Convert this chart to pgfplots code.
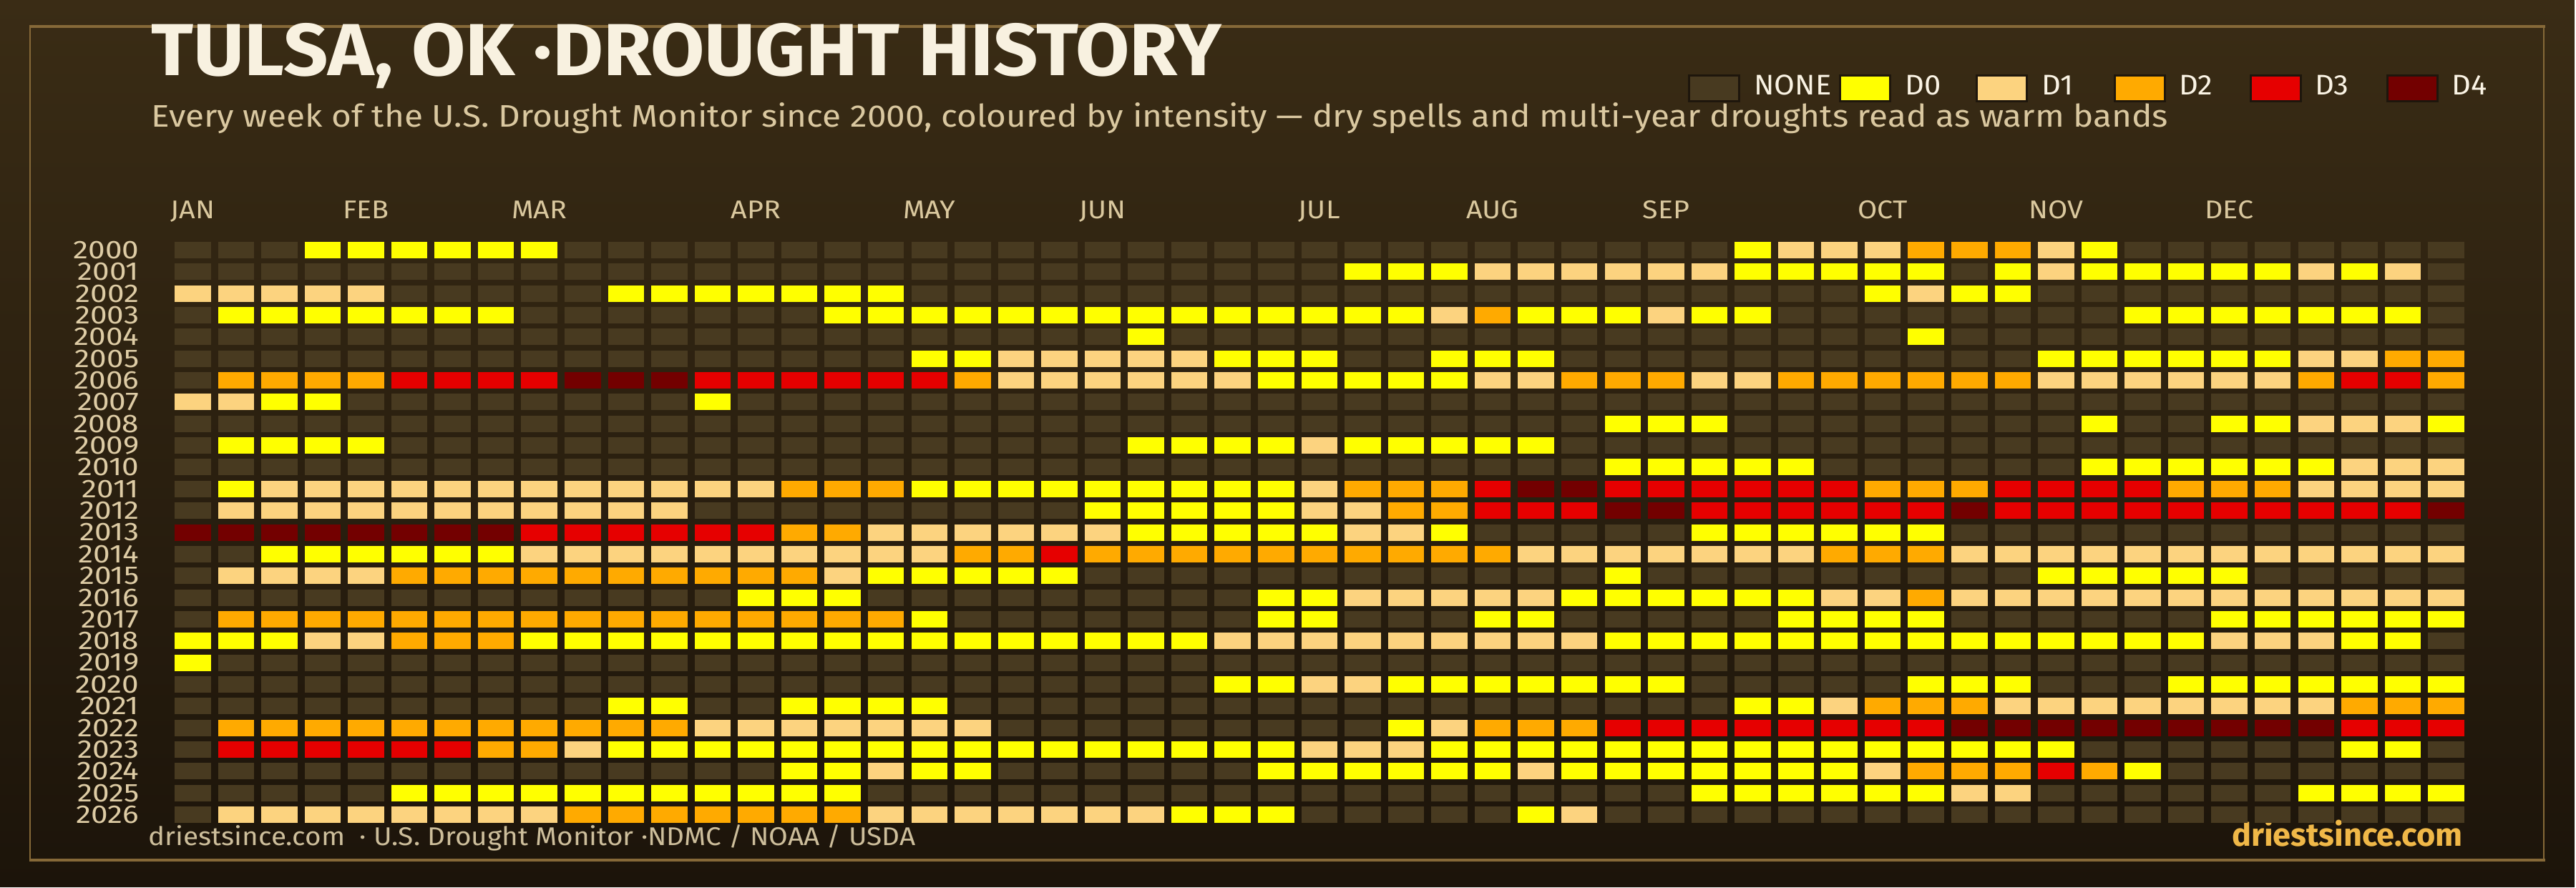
\documentclass[border=0pt]{standalone}
\usepackage{pgfplots}
\pgfplotsset{compat=1.18}
\usepackage{pgfplotstable}
\usepackage{fontspec}
\setmainfont{Fira Sans}

\definecolor{bgtop}{RGB}{58,44,21}
\definecolor{bgbot}{RGB}{28,20,10}
\definecolor{cNone}{RGB}{72,58,32}
\definecolor{cD0}{RGB}{255,255,0}
\definecolor{cD1}{RGB}{252,211,127}
\definecolor{cD2}{RGB}{255,170,0}
\definecolor{cD3}{RGB}{230,0,0}
\definecolor{cD4}{RGB}{115,0,0}
\definecolor{framec}{RGB}{134,105,56}
\definecolor{titlec}{RGB}{248,241,224}
\definecolor{subc}{RGB}{218,200,160}
\definecolor{monthc}{RGB}{218,200,158}
\definecolor{yearc}{RGB}{222,204,165}
\definecolor{footc}{RGB}{205,190,155}
\definecolor{goldc}{RGB}{240,184,72}
\definecolor{legc}{RGB}{250,243,228}
\definecolor{swborder}{RGB}{30,22,12}

% weekly US Drought Monitor category, one row per year 2000..2026, 53 weeks
% 0 = none, 1 = D0, 2 = D1, 3 = D2, 4 = D3, 5 = D4
\pgfplotstableread[header=false]{
0 0 0 1 1 1 1 1 1 0  0 0 0 0 0 0 0 0 0 0  0 0 0 0 0 0 0 0 0 0  0 0 0 0 0 0 1 2 2 2  3 3 3 2 1 0 0 0 0 0  0 0 0
0 0 0 0 0 0 0 0 0 0  0 0 0 0 0 0 0 0 0 0  0 0 0 0 0 0 0 1 1 1  2 2 2 2 2 2 1 1 1 1  1 0 1 2 1 1 1 1 1 2  1 2 0
2 2 2 2 2 0 0 0 0 0  1 1 1 1 1 1 1 0 0 0  0 0 0 0 0 0 0 0 0 0  0 0 0 0 0 0 0 0 0 1  2 1 1 0 0 0 0 0 0 0  0 0 0
0 1 1 1 1 1 1 1 0 0  0 0 0 0 0 1 1 1 1 1  1 1 1 1 1 1 1 1 1 2  3 1 1 1 2 1 1 0 0 0  0 0 0 0 0 1 1 1 1 1  1 1 0
0 0 0 0 0 0 0 0 0 0  0 0 0 0 0 0 0 0 0 0  0 0 1 0 0 0 0 0 0 0  0 0 0 0 0 0 0 0 0 0  1 0 0 0 0 0 0 0 0 0  0 0 0
0 0 0 0 0 0 0 0 0 0  0 0 0 0 0 0 0 1 1 2  2 2 2 2 1 1 1 0 0 1  1 1 0 0 0 0 0 0 0 0  0 0 0 1 1 1 1 1 1 2  2 3 3
0 3 3 3 3 4 4 4 4 5  5 5 4 4 4 4 4 4 3 2  2 2 2 2 2 1 1 1 1 1  2 2 3 3 3 2 2 3 3 3  3 3 3 2 2 2 2 2 2 3  4 4 3
2 2 1 1 0 0 0 0 0 0  0 0 1 0 0 0 0 0 0 0  0 0 0 0 0 0 0 0 0 0  0 0 0 0 0 0 0 0 0 0  0 0 0 0 0 0 0 0 0 0  0 0 0
0 0 0 0 0 0 0 0 0 0  0 0 0 0 0 0 0 0 0 0  0 0 0 0 0 0 0 0 0 0  0 0 0 1 1 1 0 0 0 0  0 0 0 0 1 0 0 1 1 2  2 2 1
0 1 1 1 1 0 0 0 0 0  0 0 0 0 0 0 0 0 0 0  0 0 1 1 1 1 2 1 1 1  1 1 0 0 0 0 0 0 0 0  0 0 0 0 0 0 0 0 0 0  0 0 0
0 0 0 0 0 0 0 0 0 0  0 0 0 0 0 0 0 0 0 0  0 0 0 0 0 0 0 0 0 0  0 0 0 1 1 1 1 1 0 0  0 0 0 0 1 1 1 1 1 1  2 2 2
0 1 2 2 2 2 2 2 2 2  2 2 2 2 3 3 3 1 1 1  1 1 1 1 1 1 2 3 3 3  4 5 5 4 4 4 4 4 4 3  3 3 4 4 4 4 3 3 3 2  2 2 2
0 2 2 2 2 2 2 2 2 2  2 2 0 0 0 0 0 0 0 0  0 1 1 1 1 1 2 2 3 3  4 4 4 5 5 4 4 4 4 4  4 5 4 4 4 4 4 4 4 4  4 4 5
5 5 5 5 5 5 5 5 4 4  4 4 4 4 3 3 2 2 2 2  2 2 1 1 1 1 1 2 2 1  0 0 0 0 0 1 1 1 1 1  1 0 0 0 0 0 0 0 0 0  0 0 0
0 0 1 1 1 1 1 1 2 2  2 2 2 2 2 2 2 2 3 3  4 3 3 3 3 3 3 3 3 3  3 2 2 2 2 2 2 2 3 3  3 2 2 2 2 2 2 2 2 2  2 2 2
0 2 2 2 2 3 3 3 3 3  3 3 3 3 3 2 1 1 1 1  1 0 0 0 0 0 0 0 0 0  0 0 0 1 0 0 0 0 0 0  0 0 0 1 1 1 1 1 0 0  0 0 0
0 0 0 0 0 0 0 0 0 0  0 0 0 1 1 1 0 0 0 0  0 0 0 0 0 1 1 2 2 2  2 2 1 1 1 1 1 1 2 2  3 2 2 2 2 2 2 2 2 2  2 2 2
0 3 3 3 3 3 3 3 3 3  3 3 3 3 3 3 3 1 0 0  0 0 0 0 0 1 1 0 0 0  1 1 0 0 0 0 0 1 1 1  1 0 0 0 0 0 0 1 1 1  1 1 1
1 1 1 2 2 3 3 3 1 1  1 1 1 1 1 1 1 1 1 1  1 1 1 1 2 2 2 2 2 2  2 2 2 1 1 1 1 1 1 1  1 1 1 1 1 1 1 2 2 2  1 1 0
1 0 0 0 0 0 0 0 0 0  0 0 0 0 0 0 0 0 0 0  0 0 0 0 0 0 0 0 0 0  0 0 0 0 0 0 0 0 0 0  0 0 0 0 0 0 0 0 0 0  0 0 0
0 0 0 0 0 0 0 0 0 0  0 0 0 0 0 0 0 0 0 0  0 0 0 0 1 1 2 2 1 1  1 1 1 1 1 0 0 0 0 0  1 1 1 0 0 0 1 1 1 1  1 1 1
0 0 0 0 0 0 0 0 0 0  1 1 0 0 1 1 1 1 0 0  0 0 0 0 0 0 0 0 0 0  0 0 0 0 0 0 1 1 2 3  3 3 2 2 2 2 2 2 2 2  3 3 3
0 3 3 3 3 3 3 3 3 3  3 3 2 2 2 2 2 2 2 0  0 0 0 0 0 0 0 0 1 2  3 3 3 4 4 4 4 4 4 4  4 5 5 5 5 5 5 5 5 5  4 4 4
0 4 4 4 4 4 4 3 3 2  1 1 1 1 1 1 1 1 1 1  1 1 1 1 1 1 2 2 2 1  1 1 1 1 1 1 1 1 1 1  1 1 1 1 0 0 0 0 0 0  1 1 0
0 0 0 0 0 0 0 0 0 0  0 0 0 0 1 1 2 1 1 0  0 0 0 0 0 1 1 1 1 1  1 2 1 1 1 1 1 1 1 2  3 3 3 4 3 1 0 0 0 0  0 0 0
0 0 0 0 0 1 1 1 1 1  1 1 1 1 1 1 0 0 0 0  0 0 0 0 0 0 0 0 0 0  0 0 0 0 0 1 1 1 1 1  1 2 2 0 0 0 0 0 0 1  1 1 1
0 2 2 2 2 2 2 2 2 3  3 3 3 3 3 3 2 2 2 2  2 2 2 1 1 1 0 0 0 0  0 1 2 0 0 0 0 0 0 0  0 0 0 0 0 0 0 0 0 0  0 0 0
}\drought

\pgfdeclareplotmark{cell}{%
  \pgfpathrectangle{\pgfpoint{-0.2525cm}{-0.115cm}}{\pgfpoint{0.505cm}{0.23cm}}%
  \pgfusepath{fill}}

\begin{document}
\begin{tikzpicture}
\begin{scope}[x=0.01cm,y=-0.01cm]
  \shade[top color=bgtop,bottom color=bgbot] (0,0) rectangle (3600,1240);
  \draw[framec, line width=0.02cm] (42,37) rectangle (3557,1203);
  \fill[framec] (41,35) rectangle (3559,39);
  \fill[framec] (41,1201) rectangle (3559,1205);
  \node[anchor=base west, inner sep=0pt, text=titlec,
        font=\bfseries\fontsize{29.3}{32}\selectfont\addfontfeatures{FakeStretch=1.06}] at (211,106) {TULSA, OK ·DROUGHT HISTORY};
  \node[anchor=base west, inner sep=0pt, text=subc,
        font=\fontsize{12.4}{14}\selectfont\addfontfeatures{FakeStretch=1.095}] at (211,178)
        {Every week of the U.S. Drought Monitor since 2000, coloured by intensity — dry spells and multi-year droughts read as warm bands};
  \foreach \xa/\c/\lab/\lx in {2360/cNone/NONE/2452, 2571/cD0/D0/2663, 2762/cD1/D1/2854, 2955/cD2/D2/3047, 3145/cD3/D3/3237, 3336/cD4/D4/3428}{
    \filldraw[fill=\c, draw=swborder, line width=0.03cm] (\xa+2,106) rectangle (\xa+72,142);
    \node[anchor=base west, inner sep=0pt, text=legc,
          font=\fontsize{11.3}{12}\selectfont\addfontfeatures{FakeStretch=1.05}] at (\lx,133) {\lab};
  }
  \node[anchor=base west, inner sep=0pt, text=footc,
        font=\fontsize{10.2}{12}\selectfont\addfontfeatures{FakeStretch=1.08}] at (207,1182)
        {driestsince.com \ · U.S. Drought Monitor ·NDMC / NOAA / USDA};
  \node[anchor=base east, inner sep=0pt, text=goldc,
        font=\bfseries\fontsize{12.8}{14}\selectfont] at (3444,1183) {driestsince.com};
\end{scope}

\begin{axis}[
  at={(2.3897cm,-3.343cm)}, anchor=north west,
  x=0.6056cm, y=0.3035cm,
  xmin=-0.5, xmax=52.5, ymin=-0.5, ymax=26.5,
  axis line style={draw=none},
  major tick length=0pt,
  xtick={0,4,8,13,17,21,26,30,34,39,43,47},
  xticklabels={JAN,FEB,MAR,APR,MAY,JUN,JUL,AUG,SEP,OCT,NOV,DEC},
  xticklabel pos=upper,
  xticklabel style={anchor=base, inner sep=0pt, yshift=0.293cm, text=monthc,
                    font=\fontsize{10.2}{12}\selectfont\addfontfeatures{FakeStretch=1.1}},
  ytick={0,...,26},
  yticklabels={2026,2025,2024,2023,2022,2021,2020,2019,2018,2017,2016,2015,2014,2013,2012,2011,2010,2009,2008,2007,2006,2005,2004,2003,2002,2001,2000},
  yticklabel style={anchor=east, inner sep=0pt, xshift=-0.44cm, text=yearc,
                    font=\fontsize{10.2}{11}\selectfont\addfontfeatures{FakeStretch=1.18}},
  clip=false,
  scatter/classes={
    0={mark=cell,fill=cNone,draw=none},
    1={mark=cell,fill=cD0,draw=none},
    2={mark=cell,fill=cD1,draw=none},
    3={mark=cell,fill=cD2,draw=none},
    4={mark=cell,fill=cD3,draw=none},
    5={mark=cell,fill=cD4,draw=none}},
]
\pgfplotsinvokeforeach{0,...,52}{
  \addplot[scatter, only marks, mark=cell, scatter src=explicit symbolic]
    table[x expr=#1, y expr=26-\coordindex, meta index=#1] {\drought};
}
\end{axis}
\pgfresetboundingbox
\path[use as bounding box] (0,0) rectangle (36cm,-12.4cm);
\end{tikzpicture}
\end{document}
